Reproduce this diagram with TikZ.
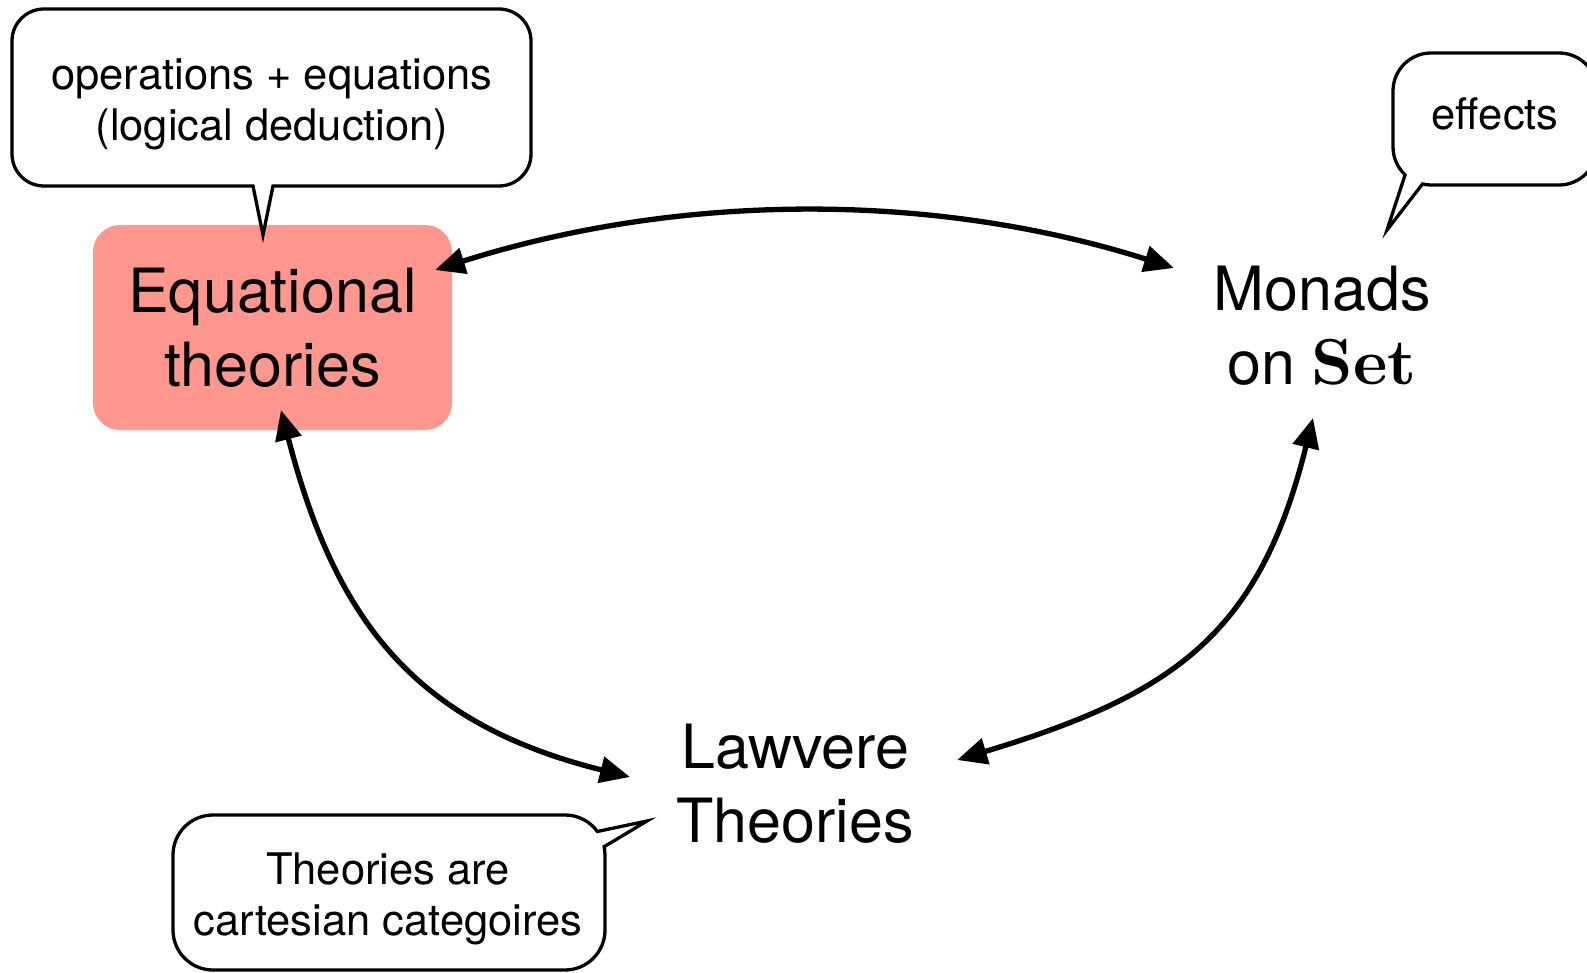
\documentclass[tikz,border=0pt]{standalone}
\usepackage{fontspec}
\setmainfont{TeX Gyre Heros}
\newfontfamily\setfont{lmroman10-bold}[Extension=.otf]
\usetikzlibrary{arrows.meta}
\definecolor{salmon}{RGB}{255,151,142}
\begin{document}
\begin{tikzpicture}[x=1pt,y=-1pt,
  bubble/.style={draw=black, line width=3.3pt, fill=white},
  bubtext/.style={font=\fontsize{43.5}{51}\selectfont, align=center, inner sep=0pt},
  big/.style={font=\fontsize{61}{74}\selectfont, align=center, inner sep=0pt},
  eqbox/.style={big, fill=salmon, rounded corners=27pt, minimum width=359pt, minimum height=205pt},
  link/.style={line width=5.3pt, {Triangle[length=30pt,width=26pt]}-{Triangle[length=30pt,width=26pt]}}]
\useasboundingbox (0,0) rectangle (1587,973);
\clip (0,0) rectangle (1587,973);

% main nodes
\node[eqbox] (eq) at (272.5,327.5) {Equational\\theories};
\node[big] (mon) at (1322,326) {Monads\\on {\setfont\fontsize{65}{74}\selectfont Set}};
\node[big] (law) at (795,784) {Lawvere\\Theories};

% callouts
\draw[bubble] (44,9) -- (499,9) arc[start angle=-90,end angle=0,radius=32]
  -- (531,154) arc[start angle=0,end angle=90,radius=32]
  -- (273,186) -- (263,235) -- (253,186) -- (44,186)
  arc[start angle=90,end angle=180,radius=32]
  -- (12,41) arc[start angle=180,end angle=270,radius=32] -- cycle;
\node[bubtext] (c1) at (272,104) {operations + equations\\(logical deduction)};

\draw[bubble] (1431,53) -- (1559,53) arc[start angle=-90,end angle=0,radius=38]
  -- (1597,147) arc[start angle=0,end angle=90,radius=38]
  -- (1431,185) arc[start angle=90,end angle=103,radius=38]
  -- (1387,230) -- (1405.1,174.8) arc[start angle=133,end angle=180,radius=38]
  -- (1393,91) arc[start angle=180,end angle=270,radius=38] -- cycle;
\node[bubtext] (c2) at (1495,114) {effects};

\draw[bubble] (213,815) -- (565,815) arc[start angle=-90,end angle=-36,radius=40]
  -- (647,821) -- (604.1,846.7) arc[start angle=-12,end angle=0,radius=40]
  -- (605,930) arc[start angle=0,end angle=90,radius=40]
  -- (213,970) arc[start angle=90,end angle=180,radius=40]
  -- (173,855) arc[start angle=180,end angle=270,radius=40] -- cycle;
\node[bubtext] (c3) at (388,899) {Theories are\\cartesian categoires};

% connectors
\coordinate (eqR) at (435,270);
\coordinate (monL) at (1174,268);
\coordinate (eqB) at (281,410);
\coordinate (lawL) at (630,777);
\coordinate (lawR) at (957,760);
\coordinate (monB) at (1313,418);
\draw[link] (eqR) .. controls +(243,-77) and +(-243,-77) .. (monL);
\draw[link] (eqB) .. controls +(55,213) and +(-213,-53) .. (lawL);
\draw[link] (lawR) .. controls +(215,-65) and +(-54,218) .. (monB);
\end{tikzpicture}
\end{document}
